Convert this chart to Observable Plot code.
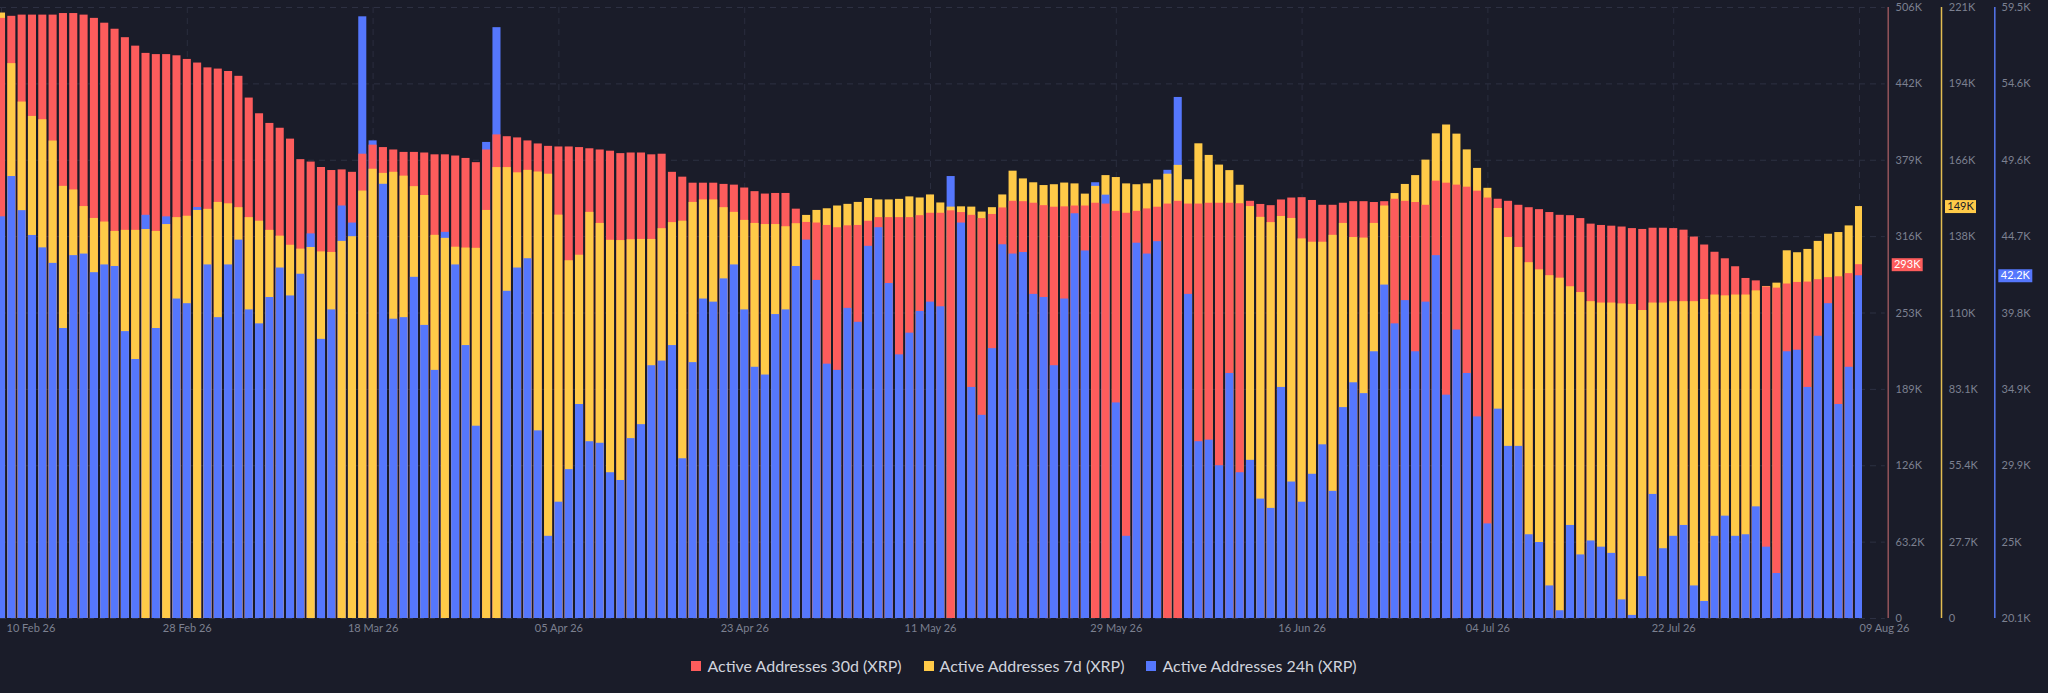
<!DOCTYPE html>
<html>
<head>
<meta charset="utf-8">
<script src="https://cdn.jsdelivr.net/npm/d3@7"></script>
<script src="https://cdn.jsdelivr.net/npm/@observablehq/plot@0.6"></script>
<style>
html, body { margin: 0; padding: 0; background: #1a1c29; }
body { width: 2048px; height: 693px; overflow: hidden; font-family: Lato, "Open Sans", sans-serif; }
#chart svg { display: block; }
#legend { display: flex; justify-content: center; gap: 22px; padding-top: 11px; line-height: 20px; font-size: 16px; color: #d0d3dc; }
.item { display: flex; align-items: center; gap: 6px; }
.sw { width: 10px; height: 10px; display: inline-block; }
</style>
</head>
<body>
<div id="chart"></div>
<div id="legend"></div>
<script>
// ---- data ----
const startDate = "2026-02-10";
const endDate = "2026-08-09";

const seriesNames = ["Active Addresses 30d (XRP)", "Active Addresses 7d (XRP)", "Active Addresses 24h (XRP)"];
const seriesColors = ["#fd5c5c", "#ffca48", "#5577fd"];

// values in thousands
const activeAddresses30dK = [
  497, 498.7, 499.7, 499.7, 499.7, 499.7, 501, 501, 499.7, 497, 493, 488, 481, 474, 468, 467, 467, 466, 463, 460, 456, 455, 453, 449, 431, 418,
  410, 406, 397, 380, 378, 373.5, 371, 371.5, 369.5, 384.5, 392, 390, 388, 386, 386, 385.5, 384, 384, 383, 381, 377.5, 388, 400.5, 399, 398, 395.5,
  393, 391, 390.5, 390.5, 390, 389, 388, 387, 385, 385.5, 385.5, 384, 384.5, 369.5, 365.5, 360.5, 360.5, 360.5, 359.5, 358.9, 356.5, 353.5, 351.5, 352, 352, 339,
  328, 327.5, 325.5, 323.6, 325.2, 325.5, 329, 332, 332, 332, 332, 333.6, 335.6, 335.6, 337.6, 336.2, 333.9, 331.2, 334.6, 340, 345.5, 345.2, 343.9, 341.9, 340.6, 340.9,
  341.6, 341.6, 343.9, 343.2, 337.2, 335.6, 337.2, 339.2, 340.6, 343.2, 345.5, 343.2, 343.2, 343.9, 343.9, 343.9, 343.5, 345.5, 342.9, 341.9, 346.6, 348.2, 348.5, 346.2, 342.2, 342.2,
  343.9, 345.2, 345.2, 344.5, 345.2, 347.2, 345.5, 344.5, 342.2, 362.2, 360.5, 358.9, 357.2, 353.9, 348.2, 347.2, 345.5, 342.2, 340.2, 338.6, 336.2, 333.9, 333.6, 331.2, 326.6, 325.5,
  324.9, 324.2, 322.9, 322.2, 323.2, 323.2, 322.9, 321.6, 315.9, 309.3, 303.3, 297.9, 291.3, 281.6, 279.6, 274.6, 273.6, 277, 278.3, 278.6, 280.6, 282.3, 283, 285.6, 293
];
const activeAddresses7dK = [
  219, 200.7, 186.8, 181.6, 180.4, 172.7, 156.3, 155, 149, 144.7, 143.4, 140, 140.4, 140.4, 140.7, 140, 142.5, 145, 145.5, 147.6, 148, 150.5, 150, 148.6, 145, 143.7,
  140.4, 138.3, 135, 133.6, 134.2, 132.6, 132.4, 136.4, 138.1, 154.6, 162.5, 161, 161.4, 160, 156.2, 153, 138.6, 137.5, 134.3, 134, 133.9, 147.6, 163.1, 163.1, 161.2, 162.1,
  161.5, 160.7, 145.9, 129.4, 131.4, 146.9, 142.9, 136.8, 136.7, 137, 137.1, 137.1, 141, 143.2, 143.7, 150.5, 151.4, 151.4, 148.6, 146.9, 144, 142.9, 142.5, 142.5, 141.7, 142.8,
  145.8, 147.6, 148.2, 149.2, 149.8, 150.5, 151.9, 151.4, 151.4, 151.6, 152.5, 152.1, 153.2, 150.3, 148.8, 148.9, 148.8, 147, 148.6, 153.2, 161.8, 159, 157.6, 156.6, 156.9, 157.5,
  157.2, 153.5, 156.3, 160.2, 159.5, 157.2, 156.9, 157.2, 158.6, 160.7, 163.9, 158.7, 171.7, 167.5, 164, 162, 156.7, 149, 145.1, 143.2, 145.4, 144.7, 137.3, 136.1, 136.1, 138.6,
  142.9, 137.8, 137.6, 142.9, 149.2, 153.7, 157, 160.2, 165.8, 175.3, 178.5, 175.2, 169.5, 162.8, 155.6, 148.3, 137.8, 134.2, 128.7, 126.1, 124, 123.1, 120, 117.9, 114.6, 114.1,
  114.1, 113.8, 113.6, 111.4, 114.1, 114.1, 114.6, 114.6, 114.6, 115.4, 117, 116.7, 117, 117, 118.5, 120.1, 121.3, 133, 132.3, 133.5, 136.4, 139, 139.6, 142, 149
];
const activeAddresses24hK = [
  46.0, 48.6, 46.4, 44.8, 44.0, 43.0, 38.8, 43.5, 43.6, 42.4, 42.9, 42.8, 38.6, 36.8, 46.1, 38.8, 46.0, 40.7, 40.4, 46.6, 42.9, 39.5, 42.9, 44.5, 40.0, 39.1,
  40.8, 42.7, 40.9, 42.3, 44.9, 38.1, 40.0, 46.7, 45.6, 58.9, 50.9, 48.1, 39.4, 39.5, 42.1, 39.0, 36.1, 45.0, 42.9, 37.7, 32.5, 50.8, 58.2, 41.2, 42.7, 43.3,
  32.2, 25.4, 27.6, 29.7, 33.9, 31.5, 31.4, 29.5, 29.0, 31.7, 32.6, 36.4, 36.7, 37.7, 30.4, 36.6, 40.7, 40.5, 42.0, 42.9, 40.0, 36.3, 35.8, 39.7, 40.0, 42.8,
  44.5, 41.9, 36.5, 36.1, 40.1, 39.2, 44.1, 45.3, 41.7, 37.1, 38.5, 39.9, 40.5, 40.2, 48.6, 45.6, 35.0, 33.2, 37.5, 44.2, 43.6, 43.7, 41.0, 40.8, 36.4, 40.7,
  46.2, 43.8, 48.2, 47.4, 34.0, 25.4, 44.3, 43.6, 44.4, 49.0, 53.7, 41.0, 31.5, 31.6, 29.95, 35.9, 29.5, 30.3, 27.8, 27.2, 35.0, 28.9, 27.6, 29.4, 31.3, 28.3,
  33.7, 35.3, 34.6, 37.3, 41.6, 39.1, 40.6, 37.3, 40.5, 43.5, 34.5, 38.7, 35.9, 33.1, 26.2, 33.6, 31.2, 31.2, 25.5, 25.0, 22.2, 20.6, 26.1, 24.2, 25.1, 24.7,
  24.3, 21.3, 20.3, 22.8, 28.1, 24.6, 25.4, 26.1, 22.2, 21.2, 25.4, 26.7, 25.4, 25.5, 27.3, 24.7, 23.0, 37.3, 37.4, 35.0, 38.3, 40.4, 33.9, 36.3, 42.2
];

// right-hand axes (one per series): min/max in thousands and tick labels
const axis30dRangeK = [0, 506];
const axis7dRangeK = [0, 221];
const axis24hRangeK = [20.1, 59.5];
const axis30dTicks = ["0", "63.2K", "126K", "189K", "253K", "316K", "379K", "442K", "506K"];
const axis7dTicks = ["0", "27.7K", "55.4K", "83.1K", "110K", "138K", "166K", "194K", "221K"];
const axis24hTicks = ["20.1K", "25K", "29.9K", "34.9K", "39.8K", "44.7K", "49.6K", "54.6K", "59.5K"];
const lastValueLabels = ["293K", "149K", "42.2K"];

const xTickDates = ["2026-02-10", "2026-02-28", "2026-03-18", "2026-04-05", "2026-04-23", "2026-05-11",
                    "2026-05-29", "2026-06-16", "2026-07-04", "2026-07-22", "2026-08-09"];

// ---- build ----
const dates = d3.utcDay.range(new Date(startDate), d3.utcDay.offset(new Date(endDate), 1));
const seriesValues = [activeAddresses30dK, activeAddresses7dK, activeAddresses24hK];
const ranges = [axis30dRangeK, axis7dRangeK, axis24hRangeK];
const tickSets = [axis30dTicks, axis7dTicks, axis24hTicks];
const norm = (v, r) => (v - r[0]) / (r[1] - r[0]);

const records = [];
seriesValues.forEach((vals, s) => {
  vals.forEach((v, i) => {
    if (dates[i] != null) records.push({date: dates[i], series: seriesNames[s], value: v, f: norm(v, ranges[s])});
  });
});
// taller bars behind, shorter in front (per day)
records.sort((a, b) => b.f - a.f);

const DAY = 864e5;
const lastDate = dates[dates.length - 1];
const xDomain = [new Date(+dates[0] - 0.097 * DAY), new Date(+lastDate + 0.29 * DAY)];
const gridEnd = new Date(+lastDate + 2.5 * DAY);
const nTicks = axis30dTicks.length - 1;
const tickLevels = d3.range(nTicks + 1).map(i => i / nTicks);
const fmtDate = d3.utcFormat("%d %b %y");
const xTicks = xTickDates.map(d => new Date(d));

const lastRecords = seriesValues.map((vals, s) => ({
  date: lastDate, series: seriesNames[s], f: norm(vals[vals.length - 1], ranges[s]), label: lastValueLabels[s]
}));

function boxSymbol(w, h) {
  return {draw(ctx) { ctx.rect(-w / 2, -h / 2, w, h); }};
}

const axisLineColors = ["#94545a", "#e2bd52", "#5576ee"];
const axisLineDx = [28.7, 82, 135.3];
const axisLabelDx = [33, 86.3, 139];
const badgeDx = [47.7, 101, 155.8];
const badgeW = [31, 31, 34];
const badgeText = ["#ffffff", "#1a1c29", "#ffffff"];
const tickColor = "#7c8090";

const marks = [
  Plot.ruleY(tickLevels, {y: d => d, x1: () => xDomain[0], x2: () => gridEnd, stroke: "#2d3042", strokeDasharray: "6,5", strokeWidth: 1}),
  Plot.ruleX(xTicks, {x: d => d, y1: 0, y2: 1, stroke: "#2a2d3e", strokeDasharray: "6,5", strokeWidth: 1}),
  Plot.rectY(records, {
    x1: d => new Date(+d.date - 0.39 * DAY),
    x2: d => new Date(+d.date + 0.39 * DAY),
    y1: 0, y2: "f", fill: "series", clip: true
  }),
  Plot.axisX(xTicks.slice(1, -1), {tickFormat: fmtDate, tickSize: 0, tickPadding: 6, fontSize: 11, fill: tickColor, label: null}),
  Plot.axisX([xTicks[0]], {tickFormat: fmtDate, tickSize: 0, tickPadding: 6, fontSize: 11, fill: tickColor, textAnchor: "start", dx: 5, label: null}),
  Plot.axisX([xTicks[xTicks.length - 1]], {tickFormat: fmtDate, tickSize: 0, tickPadding: 6, fontSize: 11, fill: tickColor, textAnchor: "start", dx: 0, label: null})
];

for (let s = 0; s < 3; s++) {
  marks.push(Plot.ruleX([lastDate], {x: d => d, dx: axisLineDx[s], y1: 0, y2: 1, stroke: axisLineColors[s], strokeWidth: 1.5}));
  const labels = tickSets[s];
  marks.push(Plot.axisY(tickLevels, {
    anchor: "right", tickSize: 0, tickPadding: 0, dx: axisLabelDx[s], fontSize: 11, fill: tickColor, label: null,
    tickFormat: d => labels[Math.round(d * nTicks)]
  }));
  marks.push(Plot.dot([lastRecords[s]], {x: "date", y: "f", dx: badgeDx[s], symbol: boxSymbol(badgeW[s], 13), fill: seriesColors[s], stroke: null, r: 6}));
  marks.push(Plot.text([lastRecords[s]], {x: "date", y: "f", dx: badgeDx[s], text: "label", fill: badgeText[s], fontSize: 11, textAnchor: "middle"}));
}

const chart = Plot.plot({
  width: 2048,
  height: 645,
  marginTop: 7,
  marginBottom: 27,
  marginLeft: 0,
  marginRight: 186,
  style: {background: "#1a1c29", color: tickColor, fontFamily: "Lato, 'Open Sans', sans-serif", fontSize: "11px", overflow: "visible"},
  x: {type: "utc", domain: xDomain, label: null},
  y: {domain: [0, 1], label: null},
  color: {domain: seriesNames, range: seriesColors},
  marks
});
document.getElementById("chart").appendChild(chart);

const legend = document.getElementById("legend");
seriesNames.forEach((name, s) => {
  const item = document.createElement("div");
  item.className = "item";
  const sw = document.createElement("span");
  sw.className = "sw";
  sw.style.background = seriesColors[s];
  const t = document.createElement("span");
  t.textContent = name;
  item.appendChild(sw);
  item.appendChild(t);
  legend.appendChild(item);
});
</script>
</body>
</html>
